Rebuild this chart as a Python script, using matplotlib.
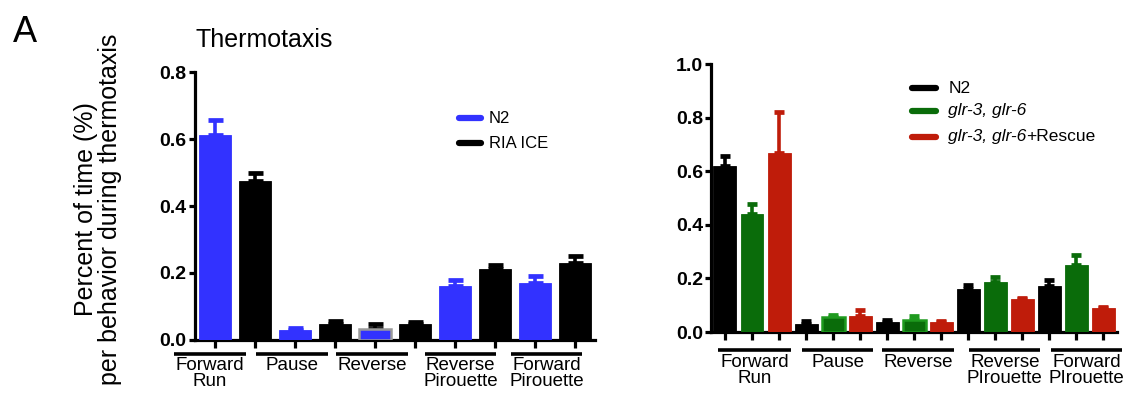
import numpy as np
import matplotlib.pyplot as plt
import matplotlib.transforms as mtransforms

plt.rcParams['font.family'] = ['Liberation Sans', 'DejaVu Sans']

# behaviours scored during thermotaxis
behaviors = ["Forward\nRun", "Pause", "Reverse", "Reverse\nPirouette", "Forward\nPirouette"]
behaviors_b = ["Forward\nRun", "Pause", "Reverse", "Reverse\nPIrouette", "Forward\nPIrouette"]

# left: N2 vs RIA ICE
n2_a = [0.612, 0.030, 0.034, 0.161, 0.171]
n2_a_err = [0.046, 0.007, 0.013, 0.019, 0.021]
ria = [0.475, 0.049, 0.047, 0.213, 0.230]
ria_err = [0.023, 0.007, 0.007, 0.012, 0.022]

# right: N2 vs glr-3, glr-6 vs rescue
n2_b = [0.618, 0.031, 0.036, 0.160, 0.170]
n2_b_err = [0.040, 0.011, 0.010, 0.017, 0.025]
glr = [0.439, 0.055, 0.046, 0.185, 0.251]
glr_err = [0.040, 0.007, 0.012, 0.020, 0.038]
rescue = [0.668, 0.061, 0.036, 0.123, 0.090]
rescue_err = [0.154, 0.020, 0.006, 0.003, 0.003]

BLUE = '#3232ff'
BLACK = '#000000'
GREEN = '#0a6c0a'
LGREEN = '#1f9a1f'
RED = '#bf1c0a'

fig = plt.figure(figsize=(11.3, 3.97), dpi=100)
ax1 = fig.add_axes([0.1726, 0.1436, 0.354, 0.675])
ax2 = fig.add_axes([0.6296, 0.1637, 0.3588, 0.675])


def style_axis(ax, ymax):
    for s in ['top', 'right']:
        ax.spines[s].set_visible(False)
    for s in ['left', 'bottom']:
        ax.spines[s].set_linewidth(2.3)
    ax.set_ylim(0, ymax)
    ax.set_yticks(np.arange(0, ymax + 0.01, 0.2))
    ax.set_yticklabels(['%.1f' % v for v in np.arange(0, ymax + 0.01, 0.2)],
                       fontsize=14, fontweight='bold')
    ax.tick_params(axis='y', length=4, width=2.3, pad=2)
    ax.tick_params(axis='x', length=6, width=2.3, labelbottom=False)


def draw_groups(ax, spans, labels, line_y, text_y):
    tr = mtransforms.blended_transform_factory(ax.transData, ax.transAxes)
    for (a, b), lab in zip(spans, labels):
        ax.plot([a, b], [line_y, line_y], color='black', lw=2.6,
                transform=tr, clip_on=False, solid_capstyle='butt')
        ax.text((a + b) / 2, text_y, lab, transform=tr, ha='center', va='top',
                fontsize=13.5, linespacing=0.9)


def draw_bars(ax, xs, vals, errs, colors, edges, ecolors, width, capsize):
    for x, v, e, c, ed, ec in zip(xs, vals, errs, colors, edges, ecolors):
        ax.errorbar(x, v, yerr=[[0], [e]], fmt='none', ecolor=ec,
                    elinewidth=2.6, capsize=capsize, capthick=3.4, zorder=2)
        ax.bar(x, v, width=width, color=c, edgecolor=ed,
               linewidth=1.8 if ed != c else 0.6, zorder=3)


# ---- left panel: Thermotaxis, N2 vs RIA ICE
x1 = np.arange(10)
vals1, errs1, cols1, edges1, ecols1 = [], [], [], [], []
for i in range(5):
    vals1 += [n2_a[i], ria[i]]
    errs1 += [n2_a_err[i], ria_err[i]]
    cols1 += [BLUE, BLACK]
    edges1 += ['#9a9a9a' if i == 2 else BLUE, BLACK]
    ecols1 += [BLACK if i == 2 else BLUE, BLACK]
draw_bars(ax1, x1, vals1, errs1, cols1, edges1, ecols1, 0.8, 5.4)
style_axis(ax1, 0.8)
ax1.set_xlim(-0.51, 9.49)
ax1.set_xticks(x1)
spans1 = [(-1.03, 0.76), (1.01, 2.81), (3.01, 4.81), (5.24, 7.01), (7.39, 9.16)]
draw_groups(ax1, spans1, behaviors, -0.052, -0.064)

# legend
for yy, col, lab in [(0.828, BLUE, 'N2'), (0.735, BLACK, 'RIA ICE')]:
    ax1.plot([0.66, 0.715], [yy, yy], color=col, lw=4.5, transform=ax1.transAxes,
             solid_capstyle='round')
    ax1.text(0.735, yy, lab, transform=ax1.transAxes, va='center', fontsize=12)

# ---- right panel: N2 vs glr-3, glr-6 vs rescue
x2 = np.arange(15)
vals2, errs2, cols2, edges2, ecols2 = [], [], [], [], []
for i in range(5):
    vals2 += [n2_b[i], glr[i], rescue[i]]
    errs2 += [n2_b_err[i], glr_err[i], rescue_err[i]]
    cols2 += [BLACK, GREEN, RED]
    edges2 += [BLACK, LGREEN if i in (1, 2) else GREEN, RED]
    ecols2 += [BLACK, LGREEN if i in (1, 2) else GREEN, RED]
draw_bars(ax2, x2, vals2, errs2, cols2, edges2, ecols2, 0.85, 3.8)
style_axis(ax2, 1.0)
ax2.set_xlim(-0.5, 14.5)
ax2.set_xticks(x2)
spans2 = [(-0.26, 2.44), (2.85, 5.48), (5.81, 8.48), (9.04, 11.67), (12.07, 14.7)]
draw_groups(ax2, spans2, behaviors_b, -0.067, -0.083)

legend_rows = [(0.910, BLACK), (0.825, GREEN), (0.728, RED)]
for yy, col in legend_rows:
    ax2.plot([0.495, 0.555], [yy, yy], color=col, lw=4.5, transform=ax2.transAxes,
             solid_capstyle='round')
ax2.text(0.584, 0.910, 'N2', transform=ax2.transAxes, va='center', fontsize=12.5)
ax2.text(0.584, 0.825, 'glr-3, glr-6', transform=ax2.transAxes, va='center',
         fontsize=12.5, style='italic')
t = ax2.text(0.584, 0.728, 'glr-3, glr-6', transform=ax2.transAxes, va='center',
             fontsize=12.5, style='italic')
ax2.annotate('+Rescue', xy=(1, 0), xycoords=t, va='bottom', ha='left', fontsize=12.5)

# ---- figure texts
fig.text(13 / 1130, 1 - 42 / 397, 'A', fontsize=26, va='baseline')
fig.text(195 / 1130, 1 - 47 / 397, 'Thermotaxis', fontsize=18, va='baseline')
fig.text(98 / 1130, 1 - 209 / 397, 'Percent of time (%)\nper behavior during thermotaxis',
         rotation=90, ha='center', va='center', fontsize=18, linespacing=1.05)

fig.savefig('out.png', dpi=100)
